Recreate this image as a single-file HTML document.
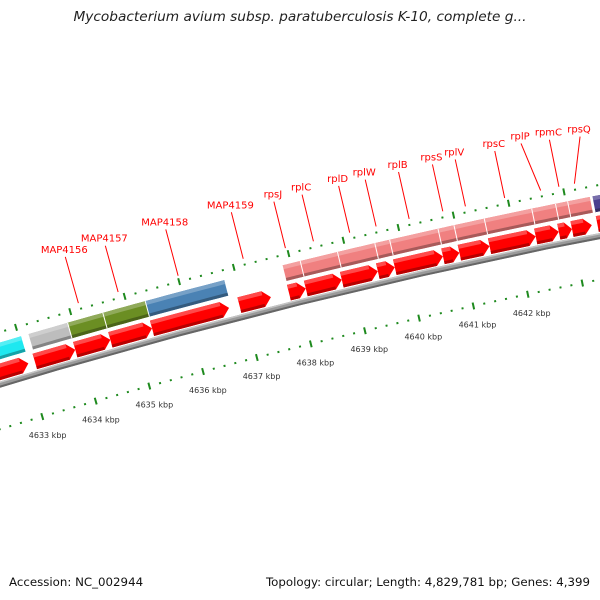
<!DOCTYPE html>
<html><head><meta charset="utf-8">
<style>
html,body{margin:0;padding:0;background:#fff;}
#wrap{position:relative;width:600px;height:600px;overflow:hidden;font-family:"DejaVu Sans","Liberation Sans",sans-serif;}
.title{position:absolute;left:0;top:9px;width:600px;text-align:center;font-style:italic;font-size:13.7px;color:#222;}
.foot{position:absolute;top:575px;font-size:11.8px;color:#111;}
svg{position:absolute;left:0;top:0;}
</style></head>
<body>
<div id="wrap">
<div class="title">Mycobacterium avium subsp. paratuberculosis K-10, complete g...</div>
<svg id="map" width="600" height="600"></svg>
<div class="foot" style="left:9px">Accession: NC_002944</div>
<div class="foot" style="right:10px">Topology: circular; Length: 4,829,781 bp; Genes: 4,399</div>
</div>
<script>
// ---- data (kbp) ----
const boxStart = [4632.0, 4633.17, 4633.90, 4634.55, 4635.33, 4637.84, 4638.17, 4638.85, 4639.53, 4639.80, 4640.68, 4640.97, 4641.52, 4642.38, 4642.81, 4643.03, 4643.47];
const boxEnd   = [4633.04, 4633.90, 4634.55, 4635.33, 4636.78, 4638.17, 4638.85, 4639.53, 4639.80, 4640.68, 4640.97, 4641.52, 4642.38, 4642.81, 4643.03, 4643.43, 4644.5];
const boxColor = ["#1ee8f0","#bdbdbd","#6b8e23","#6b8e23","#4a82b4","#f08080","#f08080","#f08080","#f08080","#f08080","#f08080","#f08080","#f08080","#f08080","#f08080","#f08080","#4b3f8f"];
const arrowStart = [4631.5, 4633.15, 4633.90, 4634.55, 4635.32, 4636.93, 4637.84, 4638.15, 4638.81, 4639.47, 4639.78, 4640.66, 4640.96, 4641.51, 4642.35, 4642.77, 4643.01, 4643.47];
const arrowEnd   = [4633.03, 4633.90, 4634.55, 4635.32, 4636.74, 4637.51, 4638.15, 4638.81, 4639.47, 4639.78, 4640.66, 4640.96, 4641.51, 4642.35, 4642.77, 4643.01, 4643.37, 4644.3];
const labelNames = ["MAP4156","MAP4157","MAP4158","MAP4159","rpsJ","rplC","rplD","rplW","rplB","rpsS","rplV","rpsC","rplP","rpmC","rpsQ"];
const labelKbp = [4634.18, 4634.91, 4636.01, 4637.20, 4637.97, 4638.48, 4639.14, 4639.62, 4640.22, 4640.83, 4641.24, 4641.95, 4642.60, 4642.93, 4643.21];
const labelNudge = [0,0,0,0,0,0,0,0,0,0,0,0,-10,0,15];
const tickLabels = [4633,4634,4635,4636,4637,4638,4639,4640,4641,4642];

// ---- geometry ----
const CX = 1829, CY = 6485;
const A0 = -104.39 * Math.PI/180, K = 0.504 * Math.PI/180, P0 = 4637;
function pt(p, r){ const a = A0 + (p-P0)*K; return [CX + r*Math.cos(a), CY + r*Math.sin(a)]; }
const NS = 'http://www.w3.org/2000/svg';
const svg = document.getElementById('map');
function band(p1,p2,r1,r2){
  const n=8, pts=[];
  for(let i=0;i<=n;i++){pts.push(pt(p1+(p2-p1)*i/n, r2));}
  for(let i=n;i>=0;i--){pts.push(pt(p1+(p2-p1)*i/n, r1));}
  return pts.map(q=>q[0].toFixed(2)+','+q[1].toFixed(2)).join(' ');
}
function poly(points, fill, parent){
  const e=document.createElementNS(NS,'polygon');
  e.setAttribute('points',points); e.setAttribute('fill',fill);
  parent.appendChild(e); return e;
}
function shade(hex, f){
  const n=parseInt(hex.slice(1),16); let r=n>>16,g=(n>>8)&255,b=n&255;
  if(f>0){r+= (255-r)*f; g+=(255-g)*f; b+=(255-b)*f;} else {r*=1+f; g*=1+f; b*=1+f;}
  return 'rgb('+Math.round(r)+','+Math.round(g)+','+Math.round(b)+')';
}
const R_IN = 6326, R_BB = 6369, A1 = 6373, A2 = 6389, B1 = 6393, B2 = 6409, R_OUT = 6419;

const bb = document.createElementNS(NS,'g');


svg.appendChild(bb);
poly(band(4629,4647,R_BB-3,R_BB+3),'#9a9a9a',bb);
poly(band(4629,4647,R_BB-3,R_BB-1),'#666',bb);
poly(band(4629,4647,R_BB+1.5,R_BB+3),'#c4c4c4',bb);

function ring(r, name, withLabels){
  const g=document.createElementNS(NS,'g');
  
  
  svg.appendChild(g);
  for(let i=0;i<=80;i++){
    const p = 4630 + i*0.2;
    const major = (i%5===0);
    const a=pt(p, r-(major?3.5:1)), b=pt(p, r+(major?3.5:1));
    const l=document.createElementNS(NS,'line');
    l.setAttribute('x1',a[0]);l.setAttribute('y1',a[1]);l.setAttribute('x2',b[0]);l.setAttribute('y2',b[1]);
    l.setAttribute('stroke','#1e8a1e'); l.setAttribute('stroke-width',2);
    g.appendChild(l);
  }
  if(withLabels){
    tickLabels.forEach(v=>{
      const q=pt(v, r-19);
      const t=document.createElementNS(NS,'text');
      
      
      t.setAttribute('x',q[0]); t.setAttribute('y',q[1]+3);
      t.setAttribute('text-anchor','middle'); t.setAttribute('font-size','8');
      t.setAttribute('fill','#333'); t.setAttribute('font-family','"DejaVu Sans","Liberation Sans",sans-serif');
      t.textContent=v+' kbp'; g.appendChild(t);
    });
  }
}
ring(R_IN,'inner-scale',true);
ring(R_OUT,'outer-scale',false);

boxStart.forEach((s,i)=>{
  const e=boxEnd[i], c=boxColor[i];
  const g=document.createElementNS(NS,'g');
  
  
  svg.appendChild(g);
  poly(band(s,e,B1,B2),c,g);
  poly(band(s,e,B2-4,B2),shade(c,0.25),g);
  poly(band(s,e,B1,B1+3),shade(c,-0.3),g);
  const a=pt(s,B1), b=pt(s,B2);
  const l=document.createElementNS(NS,'line');
  l.setAttribute('x1',a[0]);l.setAttribute('y1',a[1]);l.setAttribute('x2',b[0]);l.setAttribute('y2',b[1]);
  l.setAttribute('stroke','#fff');l.setAttribute('stroke-width',1);g.appendChild(l);
});

arrowStart.forEach((s,i)=>{
  const e=arrowEnd[i];
  const h=Math.min(0.14,(e-s)*0.5);
  const g=document.createElementNS(NS,'g');
  
  
  svg.appendChild(g);
  const pts=[pt(s,A1),pt(s,A2),pt(e-h,A2),pt(e,(A1+A2)/2),pt(e-h,A1)];
  poly(pts.map(q=>q[0]+','+q[1]).join(' '),'#ff0000',g);
  poly(band(s,e-h,A2-4,A2),'#ff4a4a',g);
  poly(band(s,e-h,A1,A1+3),'#b80000',g);
});

labelNames.forEach((name,i)=>{
  const p=labelKbp[i];
  const g=document.createElementNS(NS,'g');
  
  
  svg.appendChild(g);
  const a=pt(p,R_OUT+6), b0=pt(p,R_OUT+54);
  const b=[b0[0]+labelNudge[i], b0[1]];
  const l=document.createElementNS(NS,'line');
  l.setAttribute('x1',a[0]);l.setAttribute('y1',a[1]);l.setAttribute('x2',b[0]);l.setAttribute('y2',b[1]);
  l.setAttribute('stroke','#ff0000');l.setAttribute('stroke-width',1);g.appendChild(l);
  const t=document.createElementNS(NS,'text');
  t.setAttribute('x',b[0]-1); t.setAttribute('y',b[1]-4);
  t.setAttribute('text-anchor','middle'); t.setAttribute('font-size','10');
  t.setAttribute('fill','#ff0000'); t.setAttribute('font-family','"DejaVu Sans","Liberation Sans",sans-serif');
  t.textContent=name; g.appendChild(t);
});
</script>
</body></html>
